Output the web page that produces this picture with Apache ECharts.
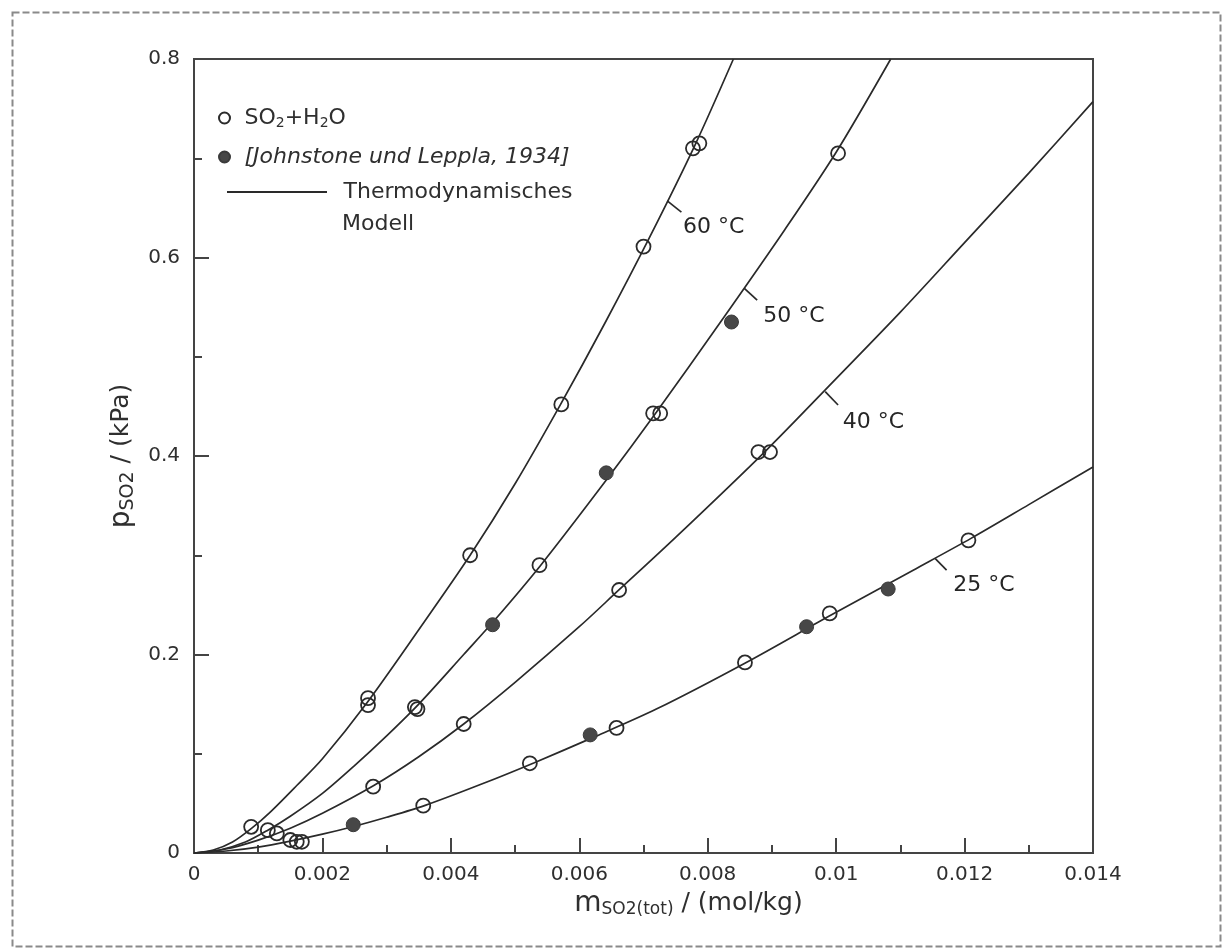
<!DOCTYPE html>
<html>
<head>
<meta charset="utf-8">
<script src="https://cdn.jsdelivr.net/npm/echarts/dist/echarts.min.js"></script>
<style>
  html, body { margin: 0; padding: 0; background: #fff; }
  #chart { width: 1226px; height: 952px; }
</style>
</head>
<body>
<div id="chart"></div>
<script>
// Axis tick labels
const xTickLabels = ['0', '0.002', '0.004', '0.006', '0.008', '0.01', '0.012', '0.014'];
const yTickLabels = ['0', '0.2', '0.4', '0.6', '0.8'];

// Model curves: [m_SO2(tot) mol/kg, p_SO2 kPa]
const model60 = [[0,0],[0.0003,0.003],[0.0006,0.011],[0.0009,0.025],[0.0012,0.042],[0.0016,0.068],[0.002,0.095],[0.0027,0.152],[0.0035,0.225],[0.0043,0.300],[0.005,0.372],[0.0057,0.451],[0.0064,0.534],[0.0071,0.621],[0.0078,0.713],[0.0084,0.800]];
const model50 = [[0,0],[0.0004,0.003],[0.0008,0.011],[0.00115,0.023],[0.0015,0.037],[0.002,0.060],[0.0025,0.088],[0.003,0.118],[0.0035,0.150],[0.0042,0.200],[0.0047,0.236],[0.0054,0.290],[0.0064,0.374],[0.0072,0.444],[0.0082,0.535],[0.0092,0.628],[0.0100,0.706],[0.01085,0.800]];
const model40 = [[0,0],[0.0005,0.004],[0.001,0.013],[0.0015,0.025],[0.002,0.040],[0.0028,0.068],[0.0035,0.097],[0.0042,0.130],[0.005,0.172],[0.006,0.228],[0.0066,0.264],[0.0075,0.318],[0.0089,0.405],[0.0100,0.478],[0.011,0.545],[0.012,0.615],[0.013,0.685],[0.014,0.757]];
const model25 = [[0,0],[0.0005,0.002],[0.001,0.006],[0.0015,0.012],[0.002,0.019],[0.0025,0.027],[0.003,0.036],[0.0036,0.048],[0.0045,0.070],[0.0053,0.091],[0.0062,0.116],[0.0072,0.145],[0.0086,0.192],[0.0099,0.239],[0.0112,0.285],[0.0121,0.317],[0.013,0.351],[0.014,0.389]];

// Measured points, SO2 + H2O (open circles)
const open60 = [[0.00089,0.0264],[0.00271,0.156],[0.00271,0.149],[0.00430,0.300],[0.00572,0.452],[0.00700,0.611],[0.00777,0.710],[0.00787,0.715]];
const open50 = [[0.00115,0.023],[0.00344,0.147],[0.00348,0.145],[0.00538,0.290],[0.00715,0.443],[0.00726,0.443],[0.01003,0.705]];
const open40 = [[0.00129,0.0197],[0.00279,0.0668],[0.00420,0.130],[0.00662,0.265],[0.00879,0.404],[0.00897,0.404]];
const open25 = [[0.00150,0.0131],[0.00160,0.0113],[0.00168,0.0113],[0.00357,0.0477],[0.00523,0.0904],[0.00658,0.126],[0.00858,0.192],[0.00990,0.2414],[0.01206,0.315]];

// Johnstone und Leppla (1934) (filled circles)
const lit50 = [[0.00465,0.230],[0.00642,0.383],[0.00837,0.535]];
const lit25 = [[0.00248,0.0285],[0.00617,0.119],[0.00954,0.228],[0.01081,0.266]];

// Temperature annotations: leader tick from the curve, and label anchor
const curveNames = ['60 °C', '50 °C', '40 °C', '25 °C'];
const leaderTicks = [
  [[0.00737,0.657],[0.00759,0.6457]],
  [[0.00857,0.569],[0.00877,0.557]],
  [[0.00983,0.4648],[0.01003,0.4514]],
  [[0.01154,0.2969],[0.01172,0.2851]]
];
const labelAnchors = [[0.00810,0.630],[0.00935,0.540],[0.01059,0.4332],[0.01231,0.269]];

const FONT = 'DejaVu Sans';
const INK = '#2f2f2f';
const LINE = '#2a2a2a';
const MODEL = 'Thermodynamisches Modell';
const OPEN = 'SO2+H2O';
const LIT = 'Johnstone und Leppla, 1934';

const chart = echarts.init(document.getElementById('chart'), null, { renderer: 'canvas' });

const curveSeries = [model60, model50, model40, model25].map(d => ({
  name: MODEL, type: 'line', data: d, symbol: 'none', smooth: 0.3,
  itemStyle: { color: LINE },
  lineStyle: { color: LINE, width: 1.7 }, z: 2, silent: true
}));

const tickSeries = leaderTicks.map(d => ({
  name: 'leader', type: 'line', data: d, symbol: 'none',
  lineStyle: { color: LINE, width: 1.7 }, z: 2, silent: true
}));

const option = {
  backgroundColor: '#fff',
  animation: false,
  textStyle: { fontFamily: FONT },
  grid: { left: 194, right: 133, top: 59, bottom: 99, show: true, borderColor: '#444', borderWidth: 2, containLabel: false, outerBoundsMode: 'none' },
  xAxis: {
    type: 'value', min: 0, max: 0.014, interval: 0.002,
    axisLine: { show: true, lineStyle: { color: '#444', width: 2 } },
    axisTick: { show: true, inside: true, length: 15, lineStyle: { color: '#444', width: 2 } },
    minorTick: { show: true, splitNumber: 2, length: 8, lineStyle: { color: '#444', width: 2 } },
    splitLine: { show: false },
    axisLabel: { color: INK, fontSize: 20, fontFamily: FONT, margin: 12,
      formatter: (v, i) => xTickLabels[i] },
    name: '{m|m}{s|SO2(tot)}{n| / (mol/kg)}',
    nameLocation: 'middle', nameGap: 30,
    nameTextStyle: { padding: [0, 0, 0, 90], rich: {
      m: { fontSize: 28, color: INK, fontFamily: FONT },
      s: { fontSize: 17, color: INK, fontFamily: FONT, padding: [12, 0, 0, 0] },
      n: { fontSize: 25, color: INK, fontFamily: FONT }
    } }
  },
  yAxis: {
    type: 'value', min: 0, max: 0.8, interval: 0.2,
    axisLine: { show: true, lineStyle: { color: '#444', width: 2 } },
    axisTick: { show: true, inside: true, length: 15, lineStyle: { color: '#444', width: 2 } },
    minorTick: { show: true, splitNumber: 2, length: 8, lineStyle: { color: '#444', width: 2 } },
    splitLine: { show: false },
    axisLabel: { color: INK, fontSize: 20, fontFamily: FONT, margin: 14,
      formatter: (v, i) => yTickLabels[i] },
    name: '{p|p}{s|SO2}{n| / (kPa)}',
    nameLocation: 'middle', nameGap: 45,
    nameTextStyle: { rich: {
      p: { fontSize: 28, color: INK, fontFamily: FONT },
      s: { fontSize: 19, color: INK, fontFamily: FONT, padding: [12, 0, 0, 0] },
      n: { fontSize: 25, color: INK, fontFamily: FONT }
    } }
  },
  legend: [
    {
      orient: 'vertical', left: 213, top: 101, itemWidth: 30, itemHeight: 11, itemGap: 15,
      data: [OPEN, LIT], selectedMode: false,
      formatter: n => n === OPEN ? '{n|SO}{s|2}{n|+H}{s|2}{n|O}' : '{i|[Johnstone und Leppla, 1934]}',
      textStyle: { color: INK, fontSize: 22, fontFamily: FONT, lineHeight: 24, rich: {
        n: { fontSize: 22, color: INK, fontFamily: FONT },
        s: { fontSize: 14, color: INK, fontFamily: FONT, padding: [10, 0, 0, 0] },
        i: { fontSize: 22, color: INK, fontFamily: FONT, fontStyle: 'italic' }
      } }
    },
    {
      left: 222, top: 175, itemWidth: 103, itemHeight: 2, selectedMode: false,
      data: [{ name: MODEL, icon: 'path://M0 0H100V2H0Z' }],
      formatter: n => '{t|' + n.split(' ')[0] + '}',
      textStyle: { color: INK, fontSize: 22, fontFamily: FONT, lineHeight: 24, rich: {
        t: { fontSize: 22, color: INK, fontFamily: FONT, padding: [0, 0, 0, 10] }
      } }
    }
  ],
  series: [
    ...curveSeries,
    ...tickSeries,
    {
      name: OPEN, type: 'scatter', symbol: 'circle', symbolSize: 14,
      data: [...open60, ...open50, ...open40, ...open25],
      itemStyle: { color: 'rgba(255,255,255,0)', borderColor: '#2a2a2a', borderWidth: 1.8, opacity: 1 }, z: 3
    },
    {
      name: LIT, type: 'scatter', symbol: 'circle', symbolSize: 14,
      data: [...lit50, ...lit25],
      itemStyle: { color: '#474747', borderColor: '#3a3a3a', borderWidth: 1, opacity: 1 }, z: 3
    },
    {
      name: 'labels', type: 'scatter', symbolSize: 1, silent: true,
      data: labelAnchors.map((p, i) => ({ value: p, name: curveNames[i] })),
      itemStyle: { color: '#fff', opacity: 1 },
      label: { show: true, position: [0, 0], align: 'center', verticalAlign: 'middle', opacity: 1,
        formatter: p => p.name, color: '#262626', fontSize: 22, fontFamily: FONT }
    }
  ],
  graphic: [
    {
      type: 'rect', left: 10, top: 10, silent: true,
      shape: { width: 1208, height: 934 },
      style: { fill: 'none', stroke: '#8a8a8a', lineWidth: 2, lineDash: [7, 3] }
    },
    {
      // second line of the model legend entry
      type: 'text', left: 342, top: 213, silent: true,
      style: { text: MODEL.split(' ')[1], fill: INK, font: '22px "DejaVu Sans"' }
    }
  ]
};

chart.setOption(option);
</script>
</body>
</html>
